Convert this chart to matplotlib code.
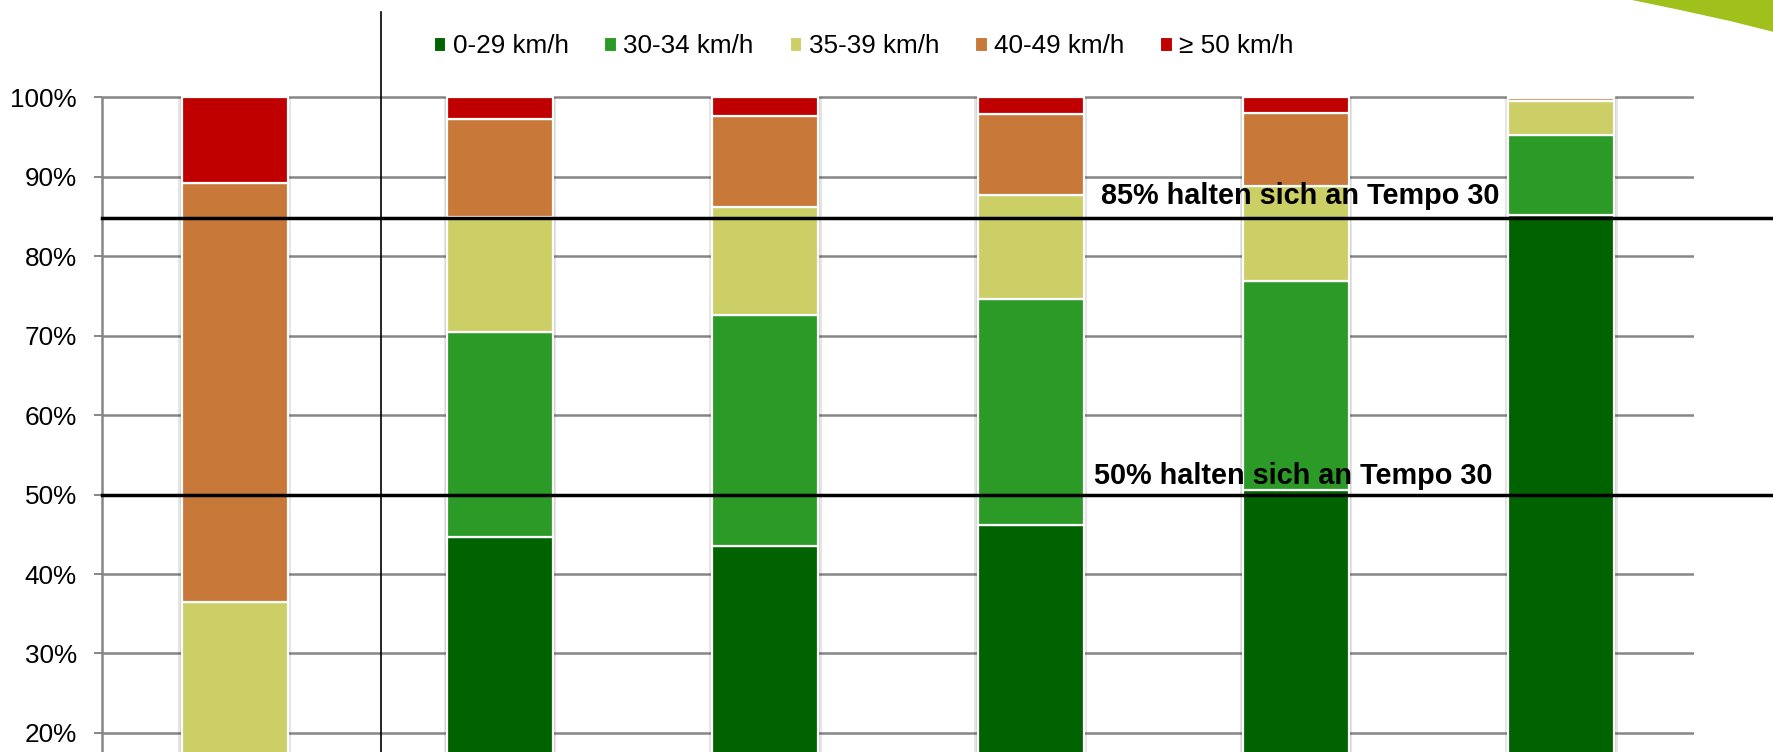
import matplotlib
matplotlib.use("Agg")
import matplotlib.pyplot as plt
from matplotlib.patches import Patch, Polygon
import numpy as np

plt.rcParams['font.family'] = ['Liberation Sans', 'DejaVu Sans']

# ---- data ----
categories = ["Messung 1", "Messung 2", "Messung 3", "Messung 4", "Messung 5", "Messung 6"]
series_names = ["0-29 km/h", "30-34 km/h", "35-39 km/h", "40-49 km/h", "\u2265 50 km/h"]
v_0_29 = [6.0, 44.6, 43.5, 46.2, 50.6, 85.2]
v_30_34 = [8.5, 25.9, 29.1, 28.4, 26.3, 10.0]
v_35_39 = [22.0, 14.4, 13.6, 13.1, 11.9, 4.3]
v_40_49 = [52.7, 12.4, 11.5, 10.2, 9.2, 0.4]
v_50 = [10.8, 2.7, 2.3, 2.1, 2.0, 0.1]
yticks = [20, 30, 40, 50, 60, 70, 80, 90, 100]
ref_lines = [84.8, 50.0]
ref_texts = ["85% halten sich an Tempo 30", "50% halten sich an Tempo 30"]

colors = ["#006300", "#2C9A26", "#CCCF66", "#C87838", "#C00000"]
series = [v_0_29, v_30_34, v_35_39, v_40_49, v_50]

W, H = 1774, 752
fig = plt.figure(figsize=(W / 100, H / 100), dpi=100)
ax = fig.add_axes([102 / W, 0.0, (1694 - 102) / W, 1.0])

ax.set_xlim(-0.5, 5.5)
ax.set_ylim(17.6, 112.25)
x = np.arange(len(categories))

# shadows
totals = np.sum(np.array(series), axis=0)
ax.bar(x, totals, width=0.425, color="#000000", alpha=0.10, zorder=1.5, linewidth=0)
ax.bar(x, totals, width=0.412, color="#000000", alpha=0.08, zorder=1.6, linewidth=0)

bottom = np.zeros(len(categories))
for vals, col in zip(series, colors):
    ax.bar(x, vals, bottom=bottom, width=0.4, color=col, edgecolor="white",
           linewidth=1.6, zorder=2)
    bottom += np.array(vals)

# grid / axis
ax.set_yticks(yticks)
ax.set_yticklabels([f"{t}%" for t in yticks], fontsize=18.8)
ax.grid(axis="y", color="#868686", linewidth=1.8, zorder=0)
ax.set_axisbelow(True)
ax.tick_params(axis="y", length=6, width=1.4, color="#868686", pad=12)
ax.tick_params(axis="x", length=0, labelbottom=False)
ax.set_xticks([])
for s in ax.spines.values():
    s.set_visible(False)
ax.vlines(-0.5, 17.6, 100, color="#868686", linewidth=1.8, zorder=0.5, clip_on=False)

# separator line
ax.plot([0.553, 0.553], [17.6, 110.7], color="black", linewidth=1.2, zorder=3, clip_on=False)

# reference lines
for yv in ref_lines:
    ax.plot([-0.5, 5.82], [yv, yv], color="black", linewidth=2.5, zorder=4, clip_on=False)
ax.text(3.265, 87.55, ref_texts[0], fontsize=20.8, fontweight="bold", ha="left", va="center", zorder=5)
ax.text(3.239, 52.3, ref_texts[1], fontsize=20.8, fontweight="bold", ha="left", va="center", zorder=5)

# legend
handles = [Patch(facecolor=c, edgecolor="white", linewidth=0.8) for c in colors]
fig.legend(handles, series_names, loc="center", bbox_to_anchor=(0.4868, 0.9388),
           ncol=5, frameon=False, fontsize=18.8, handlelength=0.45, handleheight=0.45,
           handletextpad=0.28, columnspacing=1.37, borderpad=0.0)

# decorative swoosh
sw = Polygon([[1632 / W, 1.0], [1680 / W, 1 - 10 / H], [1730 / W, 1 - 21 / H],
              [1.0, 1 - 32 / H], [1.0, 1.0]], closed=True, transform=fig.transFigure,
             facecolor="#A0C11B", edgecolor="none")
fig.patches.append(sw)

fig.savefig("out.png", dpi=100)
